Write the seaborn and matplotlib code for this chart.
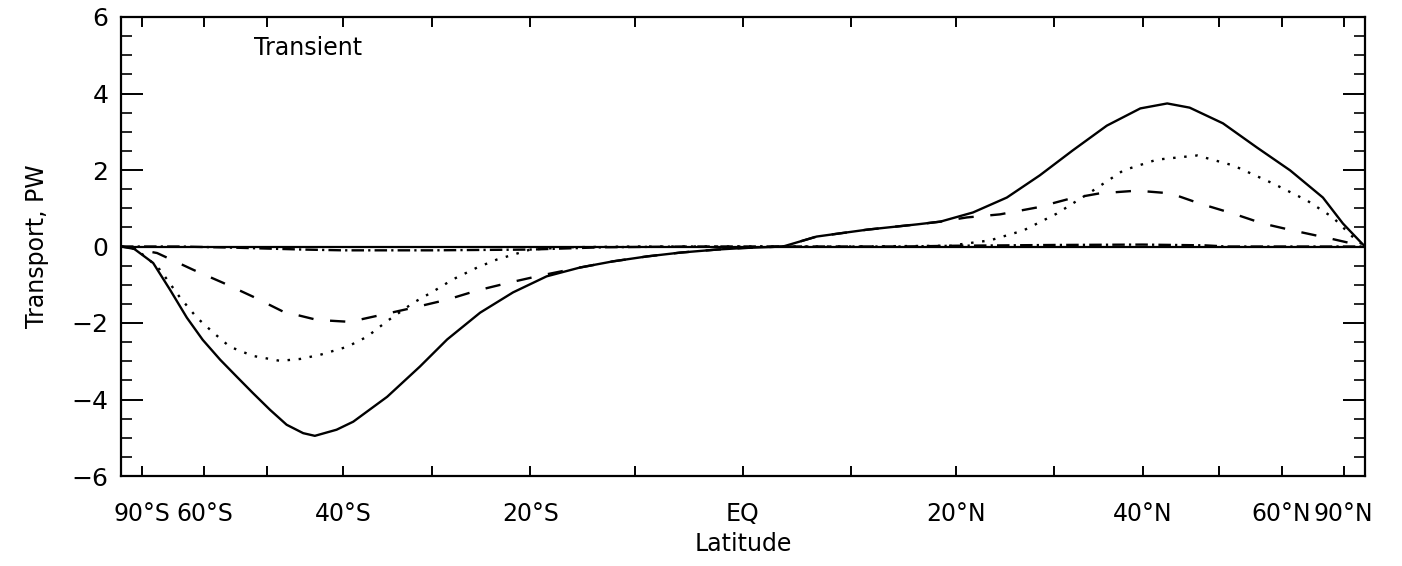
import numpy as np
import pandas as pd
import matplotlib
matplotlib.use("Agg")
import matplotlib.pyplot as plt
import seaborn as sns

# ---- data (latitude in degrees, transport in PW) ----
total_lat = [-90, -78.7, -71.5, -67.1, -63.4, -60.3, -57.2, -54.5, -52.0, -49.5, -47.2,
             -45.0, -43.5, -40.8, -38.8, -34.9, -31.3, -28.4, -25.0, -21.7, -18.4, -15.2,
             -12.1, -8.9, -5.8, -2.4, 0, 3.7, 6.8, 11.5, 16.3, 18.5, 21.7, 25.1, 28.5,
             32.0, 35.8, 39.7, 43.0, 45.9, 50.5, 55.7, 61.6, 68.8, 74.7, 84.3, 90]
total_val = [0, -0.04, -0.43, -1.13, -1.86, -2.44, -2.96, -3.40, -3.83, -4.27, -4.66,
             -4.88, -4.95, -4.79, -4.58, -3.93, -3.14, -2.43, -1.73, -1.2, -0.78, -0.55,
             -0.39, -0.26, -0.16, -0.08, -0.04, 0, 0.26, 0.44, 0.58, 0.65, 0.89, 1.28, 1.86,
             2.51, 3.16, 3.61, 3.74, 3.63, 3.22, 2.59, 1.99, 1.28, 0.6, 0.08, 0]

dotted_lat = [-90, -78.7, -74.0, -69.6, -64.8, -61.4, -58.4, -55.6, -52.0, -48.1, -45.4,
              -42.8, -39.5, -37.2, -34.9, -32.0, -29.9, -27.8, -25.3, -23.3, -21.0, -20.0,
              -16.4, -10, 0, 10, 19.4, 23.4, 26.8, 30.3, 33.9, 37.7, 41.7, 46.9, 52.0,
              58.4, 65.1, 71.5, 78.8, 90]
dotted_val = [0, -0.05, -0.25, -0.61, -1.34, -1.86, -2.25, -2.62, -2.86, -2.99, -2.94,
              -2.83, -2.62, -2.36, -1.95, -1.47, -1.18, -0.86, -0.55, -0.34, -0.16, -0.08,
              -0.02, 0, 0, 0, 0.02, 0.16, 0.42, 0.86, 1.41, 1.99, 2.27, 2.38, 2.12,
              1.65, 1.2, 0.76, 0.24, 0]

dashed_lat = [-90, -70.4, -62.1, -56.7, -52.0, -47.7, -43.2, -39.2, -35.4, -32.0, -28.4,
              -25.3, -22.0, -19.0, -15.2, -12.1, -8.9, -5.8, -2.4, 0, 3.7, 6.8, 11.5, 16.3,
              18.5, 21.1, 24.4, 28.2, 31.7, 35.0, 39.3, 43.4, 47.3, 52.0, 56.7, 62.1,
              70.7, 90]
dashed_val = [0, -0.17, -0.61, -0.95, -1.31, -1.7, -1.92, -1.97, -1.78, -1.6, -1.39,
              -1.15, -0.94, -0.76, -0.55, -0.39, -0.26, -0.16, -0.08, -0.04, 0, 0.26, 0.44,
              0.58, 0.65, 0.76, 0.84, 1.02, 1.25, 1.39, 1.46, 1.39, 1.12, 0.86, 0.6, 0.42,
              0.21, 0]

dashdot_lat = [-90, -65, -55, -45, -40, -30, -20, -13, -5, 0, 15, 20, 30, 40, 48, 51, 60, 90]
dashdot_val = [0, 0, -0.03, -0.08, -0.1, -0.1, -0.08, -0.02, 0, 0, 0, 0.02, 0.04, 0.05,
               0.03, 0.0, 0, 0]

tick_lats = [-75, -60, -50, -40, -30, -20, -10, 0, 10, 20, 30, 40, 50, 60, 75]
tick_labels = ["90°S", "60°S", "", "40°S", "", "20°S", "", "EQ", "", "20°N", "", "40°N",
               "", "60°N", "90°N"]

sns.set_theme(style="ticks")
plt.rcParams["font.family"] = ["DejaVu Sans"]
plt.rcParams["lines.scale_dashes"] = False
plt.rcParams["text.color"] = "black"
plt.rcParams["axes.labelcolor"] = "black"

fig = plt.figure(figsize=(14.02, 5.66), dpi=100)
ax = fig.add_axes([121 / 1402, 1 - 476 / 566, 1244 / 1402, 459 / 566])

ax.set_xscale("function", functions=(lambda x: np.sin(np.radians(x)),
                                     lambda s: np.degrees(np.arcsin(np.clip(s, -1, 1)))))

series = [
    (total_lat, total_val, dict(linestyle="-")),
    (dotted_lat, dotted_val, dict(dashes=(1.8, 6.2))),
    (dashed_lat, dashed_val, dict(dashes=(11, 12))),
    (dashdot_lat, dashdot_val, dict(dashes=(9, 3, 1.6, 3))),
]
for lat, val, style in series:
    df = pd.DataFrame({"lat": lat, "val": val})
    sns.lineplot(data=df, x="lat", y="val", ax=ax, color="black", lw=1.7, **style)

ax.axhline(0, color="black", lw=1.6)

ax.set_xlim(-90, 90)
ax.set_ylim(-6, 6)
ax.set_xticks(tick_lats)
ax.set_xticklabels(tick_labels)
ax.xaxis.set_minor_locator(matplotlib.ticker.NullLocator())
ax.set_yticks(np.arange(-6, 7, 2))
ax.set_yticks(np.arange(-6, 6.01, 0.5), minor=True)

ax.tick_params(axis="x", which="major", direction="in", length=7, width=1.4,
               top=True, bottom=True, labelsize=17, pad=19, colors="black")
ax.tick_params(axis="y", which="major", direction="in", length=16, width=1.4,
               left=True, right=True, labelsize=18, pad=9, colors="black")
ax.tick_params(axis="y", which="minor", direction="in", length=8, width=1.4,
               left=True, right=True)

for sp in ax.spines.values():
    sp.set_linewidth(1.6)
    sp.set_color("black")

ax.set_xlabel("Latitude", fontsize=17, labelpad=4)
ax.set_ylabel("Transport, PW", fontsize=17, labelpad=16)
ax.text(0.107, 0.917, "Transient", transform=ax.transAxes, fontsize=17,
        ha="left", va="baseline")

fig.savefig("out.png", dpi=100)
